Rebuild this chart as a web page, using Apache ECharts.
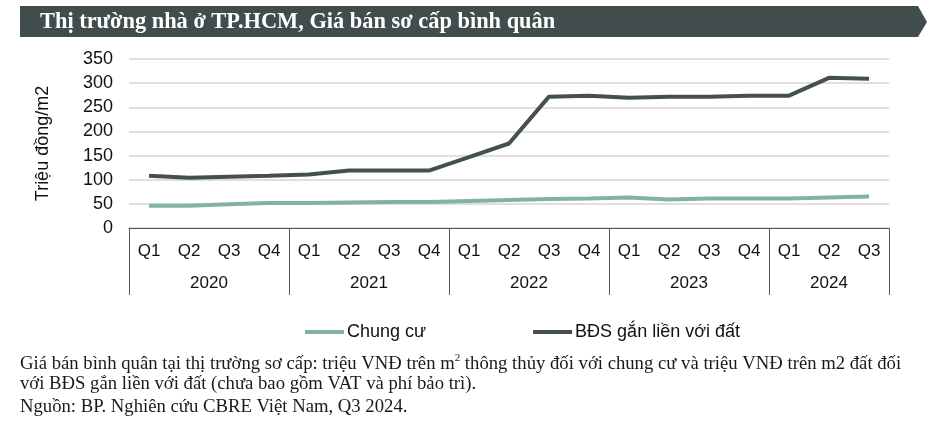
<!DOCTYPE html>
<html>
<head>
<meta charset="utf-8">
<script src="https://cdn.jsdelivr.net/npm/echarts@6/dist/echarts.min.js"></script>
<style>
html,body{margin:0;padding:0;background:#fff;}
#chart{width:937px;height:427px;}
</style>
</head>
<body>
<div id="chart"></div>
<script>
const quarters = ['Q1','Q2','Q3','Q4','Q1','Q2','Q3','Q4','Q1','Q2','Q3','Q4','Q1','Q2','Q3','Q4','Q1','Q2','Q3'];
const years = ['2020','2021','2022','2023','2024'];
const quartersPerYear = [4,4,4,4,3];
const chungCu = [46, 46, 49, 52, 52, 53, 54, 54, 56, 58, 60, 61, 63, 59, 61, 61, 61, 63, 65];
const bdsDat = [108, 104, 106, 108, 111, 119, 119, 119, 147, 175, 272, 274, 270, 272, 272, 274, 274, 311, 309];
const yTicks = [0, 50, 100, 150, 200, 250, 300, 350];
const seriesNames = ['Chung cư', 'BĐS gắn liền với đất'];
const titleText = 'Thị trường nhà ở TP.HCM, Giá bán sơ cấp bình quân';
const yName = 'Triệu đồng/m2';

// group boundaries (indices of first quarter of each year)
const groupStarts = [];
let acc = 0;
quartersPerYear.forEach(n => { groupStarts.push(acc); acc += n; });
// half-step axis for centered year labels (2*N+1 points)
const yearAxisData = new Array(quarters.length * 2 + 1).fill('');
groupStarts.forEach((s, i) => { yearAxisData[2 * s + quartersPerYear[i]] = years[i]; });

const chart = echarts.init(document.getElementById('chart'), null, {renderer: 'canvas'});
const sans = 'Liberation Sans, Arial, sans-serif';
const serif = 'Liberation Serif, Times New Roman, serif';

chart.setOption({
  animation: false,
  backgroundColor: '#ffffff',
  grid: {left: 129, right: 48, top: 59, bottom: 199, containLabel: false},
  legend: {
    data: seriesNames,
    left: 300, top: 318,
    icon: 'rect', itemWidth: 39, itemHeight: 4, itemGap: 107,
    textStyle: {fontFamily: sans, fontSize: 18, color: '#111', padding: [0,0,0,-2]}
  },
  xAxis: [{
    type: 'category',
    data: quarters,
    boundaryGap: true,
    position: 'bottom',
    axisLine: {show: true, lineStyle: {color: '#555', width: 1}},
    axisTick: {show: true, length: 67, lineStyle: {color: '#555', width: 1},
      interval: function (idx) { return groupStarts.indexOf(idx) >= 0; }},
    axisLabel: {interval: 0, margin: 15, fontFamily: sans, fontSize: 17, color: '#111'},
    splitLine: {show: false}
  }, {
    type: 'category',
    data: yearAxisData,
    boundaryGap: false,
    position: 'bottom',
    axisLine: {show: false},
    axisTick: {show: false},
    axisLabel: {interval: 0, margin: 47, fontFamily: sans, fontSize: 17, color: '#111'},
    splitLine: {show: false}
  }],
  yAxis: {
    type: 'value',
    min: yTicks[0], max: yTicks[yTicks.length - 1], interval: 50,
    name: yName, nameLocation: 'middle', nameGap: 77, nameRotate: 90,
    nameTextStyle: {fontFamily: sans, fontSize: 18, color: '#111'},
    axisLine: {show: false}, axisTick: {show: false},
    axisLabel: {margin: 16, fontFamily: sans, fontSize: 18, color: '#111'},
    splitLine: {lineStyle: {color: '#d4d4d4', width: 1.5}}
  },
  series: [{
    name: seriesNames[0], type: 'line', data: chungCu, xAxisIndex: 0,
    symbol: 'none', lineStyle: {width: 4, color: '#80b3a7'}, itemStyle: {color: '#80b3a7'}, z: 3
  }, {
    name: seriesNames[1], type: 'line', data: bdsDat, xAxisIndex: 0,
    symbol: 'none', lineStyle: {width: 4, color: '#444f50'}, itemStyle: {color: '#444f50'}, z: 4
  }],
  graphic: [{
    type: 'polygon',
    shape: {points: [[20, 6], [918, 6], [927, 22], [918, 37], [20, 37]]},
    style: {fill: '#414c4d'}
  }, {
    type: 'text', left: 40, top: 11,
    style: {text: titleText, fill: '#ffffff', font: 'bold 22.4px ' + serif}
  }, {
    type: 'text', left: 20, top: 352,
    style: {
      text: '{a|Giá bán bình quân tại thị trường sơ cấp: triệu VNĐ trên m}{s|2}{a| thông thủy đối với chung cư và triệu VNĐ trên m2 đất đối}',
      rich: {
        a: {font: '18.7px ' + serif, fill: '#1a1a1a', lineHeight: 22, verticalAlign: 'bottom'},
        s: {font: '11px ' + serif, fill: '#1a1a1a', lineHeight: 22, verticalAlign: 'top', padding: [1, 0, 0, 0]}
      }
    }
  }, {
    type: 'text', left: 20, top: 375,
    style: {text: 'với BĐS gắn liền với đất (chưa bao gồm VAT và phí bảo trì).', font: '18.7px ' + serif, fill: '#1a1a1a'}
  }, {
    type: 'text', left: 20, top: 398,
    style: {text: 'Nguồn: BP. Nghiên cứu CBRE Việt Nam, Q3 2024.', font: '18.7px ' + serif, fill: '#1a1a1a'}
  }]
});
</script>
</body>
</html>
